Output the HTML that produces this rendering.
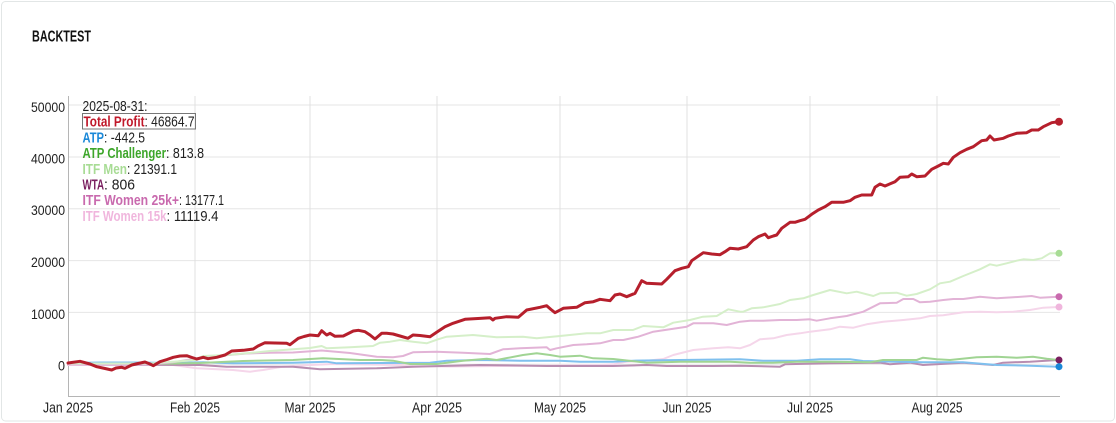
<!DOCTYPE html>
<html>
<head>
<meta charset="utf-8">
<style>
html,body{margin:0;padding:0;background:#fff;}
svg{display:block;}
text{font-family:"Liberation Sans",sans-serif;}
</style>
</head>
<body>
<svg width="1116" height="423" viewBox="0 0 1116 423" xmlns="http://www.w3.org/2000/svg">
<rect x="1.5" y="1.5" width="1113" height="419.5" rx="4" ry="4" fill="#fff" stroke="#e2e6e6" stroke-width="1"/>
<text x="32" y="41.5" font-size="16" font-weight="bold" fill="#111" textLength="59" lengthAdjust="spacingAndGlyphs">BACKTEST</text>

<!-- horizontal grid -->
<g stroke="#e6e6e6" stroke-width="1">
<line x1="68" y1="105" x2="1060" y2="105"/>
<line x1="68" y1="157" x2="1060" y2="157"/>
<line x1="68" y1="208.7" x2="1060" y2="208.7"/>
<line x1="68" y1="260.6" x2="1060" y2="260.6"/>
<line x1="68" y1="312.4" x2="1060" y2="312.4"/>
<line x1="68" y1="364.3" x2="1060" y2="364.3"/>
</g>
<!-- vertical grid -->
<g stroke="#e0e0e0" stroke-width="1">
<line x1="195" y1="96" x2="195" y2="396"/>
<line x1="310" y1="96" x2="310" y2="396"/>
<line x1="437" y1="96" x2="437" y2="396"/>
<line x1="560" y1="96" x2="560" y2="396"/>
<line x1="687" y1="96" x2="687" y2="396"/>
<line x1="810" y1="96" x2="810" y2="396"/>
<line x1="937" y1="96" x2="937" y2="396"/>
</g>
<!-- axes -->
<line x1="68.5" y1="96" x2="68.5" y2="396" stroke="#b5b5b5" stroke-width="1"/>
<line x1="68" y1="396.5" x2="1060" y2="396.5" stroke="#b5b5b5" stroke-width="1"/>

<!-- y labels -->
<g font-size="14" fill="#222" text-anchor="end">
<text x="65" y="112" textLength="34" lengthAdjust="spacingAndGlyphs">50000</text>
<text x="65" y="163.5" textLength="34" lengthAdjust="spacingAndGlyphs">40000</text>
<text x="65" y="215.2" textLength="34" lengthAdjust="spacingAndGlyphs">30000</text>
<text x="65" y="267" textLength="34" lengthAdjust="spacingAndGlyphs">20000</text>
<text x="65" y="318.9" textLength="34" lengthAdjust="spacingAndGlyphs">10000</text>
<text x="65" y="370.5" textLength="7" lengthAdjust="spacingAndGlyphs">0</text>
</g>
<!-- x labels -->
<g font-size="15" fill="#222" text-anchor="middle">
<text x="68" y="412.5" textLength="50" lengthAdjust="spacingAndGlyphs">Jan 2025</text>
<text x="195" y="412.5" textLength="50" lengthAdjust="spacingAndGlyphs">Feb 2025</text>
<text x="310" y="412.5" textLength="51" lengthAdjust="spacingAndGlyphs">Mar 2025</text>
<text x="437" y="412.5" textLength="50" lengthAdjust="spacingAndGlyphs">Apr 2025</text>
<text x="560" y="412.5" textLength="52" lengthAdjust="spacingAndGlyphs">May 2025</text>
<text x="687" y="412.5" textLength="49" lengthAdjust="spacingAndGlyphs">Jun 2025</text>
<text x="810" y="412.5" textLength="46" lengthAdjust="spacingAndGlyphs">Jul 2025</text>
<text x="937" y="412.5" textLength="51" lengthAdjust="spacingAndGlyphs">Aug 2025</text>
</g>

<!-- series (faded) -->
<g fill="none" stroke-width="2" stroke-linejoin="round" stroke-linecap="round">
<polyline stroke="#f5d6ea" points="68,365 150,365 173,365 196.7,368.3 233,370 250,371.7 263,370 283,366.7 310,365 333,364 400,365 413,366 450,366.5 500,366 550,365.5 600,365 613.3,364.3 626.7,361.7 646.7,360.7 663.3,359 673.3,355 693.3,350 713.3,348.3 728.3,347.3 740,348.3 750,345 760,339.3 773.3,338.3 786.7,335 800,333.3 810,331.7 830,329.3 840,326.7 853.3,327.7 866.7,324.3 883.3,321.7 903.3,320 920,318.3 930,316 943.3,315.3 963.3,312.3 980,311.7 996.7,312.3 1013.3,311.7 1030,310 1043.3,307.7 1058.3,307"/>
<polyline stroke="#b88db0" points="68,364.5 200,365 226.7,366.7 293,366.7 320,369.3 376.7,368.3 413,366.7 480,365 546.7,366 613,366 646.7,365 666.7,366 713,366 740,365.7 780,366.7 785,364.3 830,363.3 880,362.7 890,364.3 910,362.7 923,365 963,362.7 993,365 1003,362.7 1030,361.7 1058,360"/>
<polyline stroke="#7fc0ee" points="68,363 100,362.5 140,362.5 170,363 203,362.3 233,363.3 293,362.7 326.7,361.7 336.7,363.3 380,363 430,362.7 446.7,360.7 480,360 520,360.7 560,360.7 580,361.7 613,361.7 633,360.7 680,360 740,359.3 763,360.7 796.7,360.7 820,359.3 850,359.3 863,361 923,362.3 963,362.3 996.7,365 1030,365.7 1058,366.7"/>
<polyline stroke="#a0d493" points="68,364 150,364 200,363 243,361 293,360 323,358.3 360,360 380,360 393,360.7 410,364 436.7,364 463,360.7 486.7,358.7 496.7,360 523,355 536.7,353.3 550,355 560,356.7 580,355.7 593.3,358.3 613.3,359 646.7,362.7 680,361.7 730,361.7 750,362.7 773,362.7 796.7,361.7 830,361.7 870,362.3 883,360 916.7,360 923,357.7 936.7,359.3 950,360 976.7,357.3 996.7,356.7 1016.7,357.7 1033,356.7 1046.7,358.7 1058,360"/>
<polyline stroke="#e2b3d6" points="68,364.5 150,364.5 173,362.3 186.7,360 216.7,356 246.7,353.5 270,352.7 293,352.5 321.7,350.5 350,353 376.7,356.7 393,357.3 403,356 413,352.3 436.7,351.7 463,352.7 490,354 503,349.3 520,348.3 546.7,347.3 550,350 556.7,348.3 573.3,345 586.7,344.3 600,343.3 613.3,340 623.3,340 638.3,336.7 653.3,331.7 670,329.3 686.7,326.7 693.3,323.3 713.3,323.3 726.7,325 740,321.7 750,320.7 763.3,320.7 780,320 796.7,320 810,319.3 816.7,320.7 830,318.3 846.7,316 863.3,311.7 880,303.3 896.7,302.7 903.3,299 913.3,299 920,302.3 930,301.7 943.3,300 953.3,299 963.3,299 980,296.7 996.7,298.3 1013.3,297.3 1031.7,296 1040,297.7 1058.3,296.7"/>
<polyline stroke="#d5efc9" points="68,363.5 150,363.5 196,360 203,356 226.7,355 246.7,353.3 270,351 293,349.3 310,348 321.7,346 326.7,348.3 350,347.3 373,346 380,342.7 390,341.7 400,340 413,341.7 426.7,343.3 438,339.3 446.7,336.7 473,335 496.7,337.3 523,336.7 536.7,338.3 560,336 586.7,333.3 600,333.3 613.3,330 633,330 643.3,326 663.3,327.3 673.3,322.7 690,320 703,316.7 716.7,316 728.3,309.3 740,311.7 743.3,311.7 751.7,308.3 763.3,307.3 780,304 790,300 803.3,298.3 813.3,295 830,290 846.7,293.3 856.7,291.7 873.3,296 880,293.3 896.7,292.7 906.7,295.7 916.7,294 930,289.3 940,283.3 950,281.7 963.3,276 980,269.3 990,264.3 996.7,265.7 1006.7,263.3 1016.7,260.7 1023.3,259.3 1033.3,260 1041.7,258.3 1050,253.3 1058.3,253.3"/>
</g>
<!-- total profit -->
<polyline fill="none" stroke="#b61f2c" stroke-width="3" stroke-linejoin="round" stroke-linecap="round" points="68,363 80,361.3 90,364 96.7,366.7 105,368.5 111.7,370 116,368 121.7,367.3 125,368.3 131.7,365 138,363.5 145,362 150,364 153.3,365.7 160,361.7 167,359.5 173.3,357.3 180,356 186.7,355.7 192,357.5 196.7,359 203.3,357.3 208,358.7 216.7,357.3 225,355 231.7,351 243.3,350.3 253.3,349 258,346 265,342.7 275,343 286.7,343.3 290,344.7 298.3,338.3 304,336.5 310,335 318.3,335.7 321.7,330.7 326.7,335 330,333.3 335,336.3 343.3,336 353.3,331 358.3,330.3 365,331.7 370,335 375,339 381.7,333.3 386.7,333.3 393,334 400,336 408,338.3 413,335 420,335.5 430,336.7 437,332 445,326.7 453,323.3 465,319.3 478,318.5 490,317.7 493,320 495,318.3 506.7,316.7 518.3,317.3 526.7,310 540,307.3 546.7,305.7 551,309.5 555,312.7 563.3,308.3 576.7,307.3 585,302.7 593.3,301.7 600,299.3 610,300.7 615,295 620,294 626.7,296.7 635,293.3 641.7,280.7 646.7,283.3 661.7,284 666.7,279.3 675,270.7 681.7,268.3 688.3,266.7 691.7,260.7 703.3,252.7 711.7,254 720,254.7 725,251.7 730,248.3 738.3,249 746.7,246.7 753.3,240 758.3,236.7 765,234 768.3,237.7 773.3,236 776.7,235 781.7,228.3 790,222.3 795,222.3 800,220.7 805,219.3 811.7,214.3 818.3,210 825,206.7 831.7,202.3 843.3,202.3 850,200.7 855,197.3 861.7,195 871.7,195 875,187.3 880,184 885,186 895,181.7 900,177.3 908.3,176.7 911.7,174 916.7,176.7 925,176 931.7,169.3 938.3,166 943.3,163.3 948.3,164 953.3,157.3 960,152.7 966.7,149.3 973.3,146.7 981.7,140.7 986.7,140 990,136 994,140 1003.3,138.3 1008.3,136 1016.7,133.3 1026.7,132.7 1031.7,130 1038.3,130 1043.3,126.7 1051.7,122.7 1058.3,121.7"/>

<!-- end dots -->
<circle cx="1059" cy="121.7" r="4" fill="#b61f2c"/>
<circle cx="1059" cy="253.3" r="3.5" fill="#a8dc95"/>
<circle cx="1059" cy="296.7" r="3.5" fill="#c96aae"/>
<circle cx="1059" cy="307" r="3.5" fill="#f0b6dd"/>
<circle cx="1059" cy="360" r="3.5" fill="#7a1f5f"/>
<circle cx="1059" cy="366.7" r="3.5" fill="#1a88d8"/>

<!-- legend -->
<g font-size="15">
<text x="82.5" y="111" fill="#222" textLength="65" lengthAdjust="spacingAndGlyphs">2025-08-31:</text>
<rect x="82.5" y="113.5" width="113" height="15.5" fill="none" stroke="#777" stroke-width="1"/>
<text x="83.5" y="126.7" fill="#c0182a" font-weight="bold" textLength="61" lengthAdjust="spacingAndGlyphs">Total Profit</text>
<text x="144.5" y="126.7" fill="#222" textLength="50" lengthAdjust="spacingAndGlyphs">: 46864.7</text>
<text x="82.5" y="142.4" fill="#1a88d8" font-weight="bold" textLength="21.5" lengthAdjust="spacingAndGlyphs">ATP</text>
<text x="104" y="142.4" fill="#222" textLength="41" lengthAdjust="spacingAndGlyphs">: -442.5</text>
<text x="82.5" y="158.1" fill="#3da62a" font-weight="bold" textLength="83.5" lengthAdjust="spacingAndGlyphs">ATP Challenger</text>
<text x="166" y="158.1" fill="#222" textLength="38" lengthAdjust="spacingAndGlyphs">: 813.8</text>
<text x="82.5" y="173.8" fill="#a8dc95" font-weight="bold" textLength="44.5" lengthAdjust="spacingAndGlyphs">ITF Men</text>
<text x="127" y="173.8" fill="#222" textLength="50" lengthAdjust="spacingAndGlyphs">: 21391.1</text>
<text x="82.5" y="189.5" fill="#7a1f5f" font-weight="bold" textLength="21.5" lengthAdjust="spacingAndGlyphs">WTA</text>
<text x="104" y="189.5" fill="#222" textLength="31" lengthAdjust="spacingAndGlyphs">: 806</text>
<text x="82.5" y="205.2" fill="#c96aae" font-weight="bold" textLength="96.5" lengthAdjust="spacingAndGlyphs">ITF Women 25k+</text>
<text x="179" y="205.2" fill="#222" textLength="45" lengthAdjust="spacingAndGlyphs">: 13177.1</text>
<text x="82.5" y="220.9" fill="#f0b6dd" font-weight="bold" textLength="84" lengthAdjust="spacingAndGlyphs">ITF Women 15k</text>
<text x="166.5" y="220.9" fill="#222" textLength="52" lengthAdjust="spacingAndGlyphs">: 11119.4</text>
</g>
</svg>
</body>
</html>
